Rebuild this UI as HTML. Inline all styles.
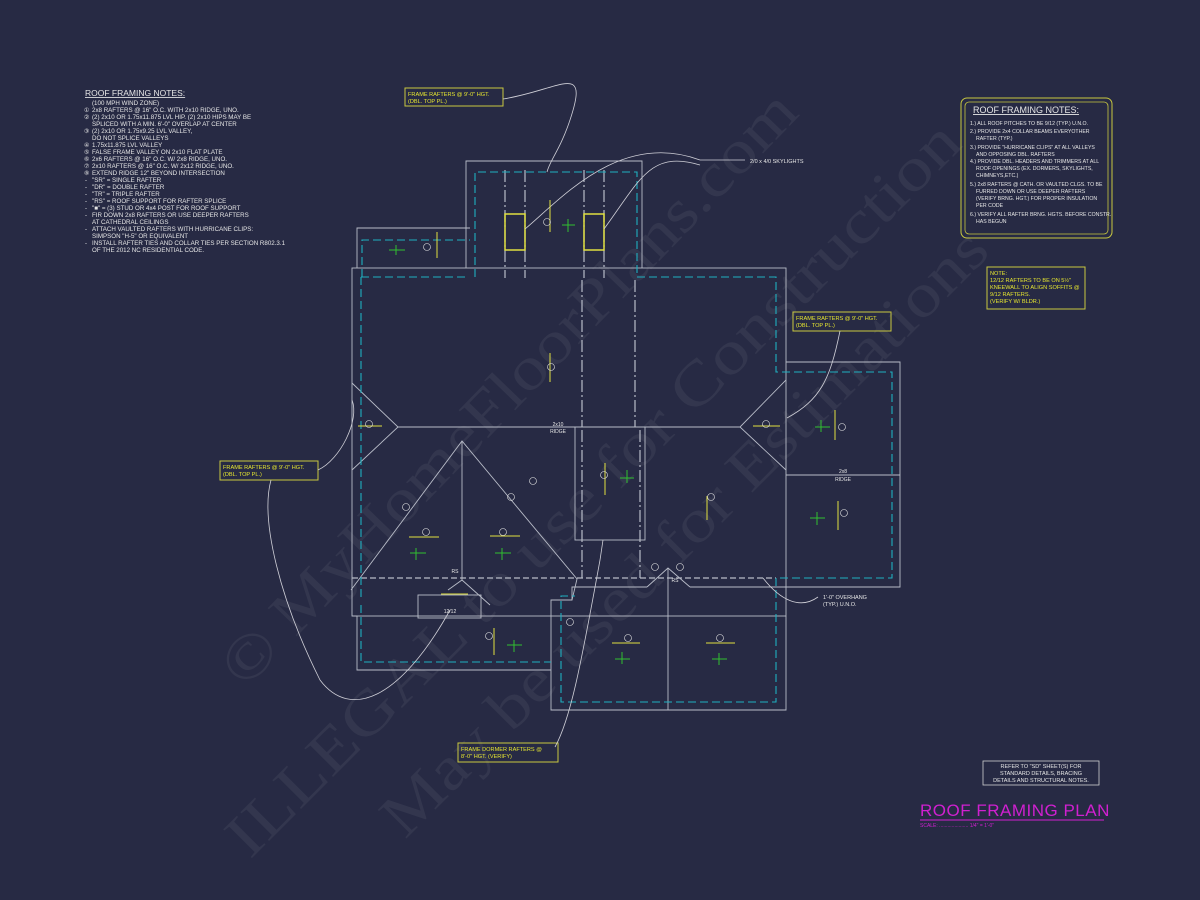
<!DOCTYPE html>
<html><head><meta charset="utf-8"><style>
html,body{margin:0;padding:0;background:#272a44;}
svg{display:block}
text{font-family:"Liberation Sans",sans-serif;}
.wm text{font-family:"Liberation Serif",serif;}
</style></head><body>
<svg width="1200" height="900" viewBox="0 0 1200 900" xmlns="http://www.w3.org/2000/svg">
<rect width="1200" height="900" fill="#272a44"/>
<!-- watermark -->
<g class="wm" fill="#33364e" font-size="62">
<text transform="translate(245,690) rotate(-46)" textLength="800" lengthAdjust="spacingAndGlyphs">© MyHomeFloorPlans.com</text>
<text transform="translate(250,860) rotate(-45)" textLength="1010" lengthAdjust="spacingAndGlyphs">ILLEGAL to use for Construction</text>
<text transform="translate(405,840) rotate(-45)" textLength="830" lengthAdjust="spacingAndGlyphs">May be used for Estimations</text>
</g>
<!-- left notes -->
<g fill="#e6e6e6" font-size="6.2">
<text x="85" y="96" font-size="8.5" text-decoration="underline">ROOF FRAMING NOTES:</text>
<text x="92" y="105">(100 MPH WIND ZONE)</text>
<text x="92" y="112">2x8 RAFTERS @ 16" O.C. WITH 2x10 RIDGE, UNO.</text>
<text x="92" y="119">(2) 2x10 OR 1.75x11.875 LVL HIP. (2) 2x10 HIPS MAY BE</text>
<text x="92" y="126">SPLICED WITH A MIN. 6'-0" OVERLAP AT CENTER</text>
<text x="92" y="133">(2) 2x10 OR 1.75x9.25 LVL VALLEY,</text>
<text x="92" y="140">DO NOT SPLICE VALLEYS</text>
<text x="92" y="147">1.75x11.875 LVL VALLEY</text>
<text x="92" y="154">FALSE FRAME VALLEY ON 2x10 FLAT PLATE</text>
<text x="92" y="161">2x6 RAFTERS @ 16" O.C. W/ 2x8 RIDGE, UNO.</text>
<text x="92" y="168">2x10 RAFTERS @ 16" O.C. W/ 2x12 RIDGE, UNO.</text>
<text x="92" y="175">EXTEND RIDGE 12" BEYOND INTERSECTION</text>
<text x="92" y="182">"SR" = SINGLE RAFTER</text>
<text x="92" y="189">"DR" = DOUBLE RAFTER</text>
<text x="92" y="196">"TR" = TRIPLE RAFTER</text>
<text x="92" y="203">"RS" = ROOF SUPPORT FOR RAFTER SPLICE</text>
<text x="92" y="210">"■" = (3) STUD OR 4x4 POST FOR ROOF SUPPORT</text>
<text x="92" y="217">FIR DOWN 2x8 RAFTERS OR USE DEEPER RAFTERS</text>
<text x="92" y="224">AT CATHEDRAL CEILINGS</text>
<text x="92" y="231">ATTACH VAULTED RAFTERS WITH HURRICANE CLIPS:</text>
<text x="92" y="238">SIMPSON "H-5" OR EQUIVALENT</text>
<text x="92" y="245">INSTALL RAFTER TIES AND COLLAR TIES PER SECTION R802.3.1</text>
<text x="92" y="252">OF THE 2012 NC RESIDENTIAL CODE.</text>
<g font-size="6"><text x="84" y="112">①</text><text x="84" y="119">②</text><text x="84" y="133">③</text><text x="84" y="147">④</text><text x="84" y="154">⑤</text><text x="84" y="161">⑥</text><text x="84" y="168">⑦</text><text x="84" y="175">⑧</text>
<text x="85" y="182">-</text><text x="85" y="189">-</text><text x="85" y="196">-</text><text x="85" y="203">-</text><text x="85" y="210">-</text><text x="85" y="217">-</text><text x="85" y="231">-</text><text x="85" y="245">-</text></g>
</g>
<!-- right notes box -->
<rect x="961" y="98" width="151" height="140" rx="6" fill="none" stroke="#c8c840" stroke-width="1"/>
<rect x="965" y="102" width="143" height="132" rx="4" fill="none" stroke="#c8c840" stroke-width="0.8"/>
<g fill="#e6e6e6" font-size="5.2">
<text x="973" y="113" font-size="9" text-decoration="underline">ROOF FRAMING NOTES:</text>
<text x="970" y="125">1.) ALL ROOF PITCHES TO BE  9/12 (TYP.) U.N.O.</text>
<text x="970" y="133">2.) PROVIDE 2x4 COLLAR BEAMS EVERYOTHER</text>
<text x="976" y="140">RAFTER (TYP.)</text>
<text x="970" y="149">3.) PROVIDE "HURRICANE CLIPS" AT ALL VALLEYS</text>
<text x="976" y="156">AND OPPOSING DBL. RAFTERS</text>
<text x="970" y="163">4.) PROVIDE DBL. HEADERS AND TRIMMERS AT ALL</text>
<text x="976" y="170">ROOF OPENINGS (EX. DORMERS, SKYLIGHTS,</text>
<text x="976" y="177">CHIMNEYS,ETC.)</text>
<text x="970" y="186">5.) 2x8 RAFTERS @ CATH. OR VAULTED CLGS. TO BE</text>
<text x="976" y="193">FURRED DOWN OR USE DEEPER RAFTERS</text>
<text x="976" y="200">(VERIFY BRNG. HGT.) FOR PROPER INSULATION</text>
<text x="976" y="207">PER CODE</text>
<text x="970" y="216">6.) VERIFY ALL RAFTER BRNG. HGTS. BEFORE CONSTR.</text>
<text x="976" y="223">HAS BEGUN</text>
</g>
<!-- yellow note boxes -->
<g fill="none" stroke="#c8c840" stroke-width="1">
<rect x="987" y="267" width="98" height="42"/>
<rect x="405" y="88" width="98" height="18"/>
<rect x="793" y="312" width="98" height="19"/>
<rect x="220" y="461" width="98" height="19"/>
<rect x="458" y="743" width="100" height="19"/>
</g>
<g fill="#e6e630" font-size="5.6">
<text x="990" y="275">NOTE:</text><text x="990" y="282">12/12 RAFTERS TO BE ON 5½"</text><text x="990" y="289">KNEEWALL TO ALIGN SOFFITS @</text><text x="990" y="296">9/12 RAFTERS.</text><text x="990" y="303">(VERIFY W/ BLDR.)</text>
<text x="408" y="96">FRAME RAFTERS @ 9'-0" HGT.</text><text x="408" y="103">(DBL. TOP PL.)</text>
<text x="796" y="320">FRAME RAFTERS @ 9'-0" HGT.</text><text x="796" y="327">(DBL. TOP PL.)</text>
<text x="223" y="469">FRAME RAFTERS @ 9'-0" HGT.</text><text x="223" y="476">(DBL. TOP PL.)</text>
<text x="461" y="751">FRAME DORMER RAFTERS @</text><text x="461" y="758">8'-0" HGT. (VERIFY)</text>
</g>
<!-- refer box / title -->
<rect x="983" y="761" width="116" height="24" fill="none" stroke="#d0d0d0" stroke-width="0.8"/>
<g fill="#e6e6e6" font-size="5.5" text-anchor="middle">
<text x="1041" y="768">REFER TO "SD" SHEET(S) FOR</text><text x="1041" y="775">STANDARD DETAILS, BRACING</text><text x="1041" y="782">DETAILS AND STRUCTURAL NOTES.</text>
</g>
<text x="920" y="816" fill="#d020d0" font-size="17" letter-spacing="0.5">ROOF FRAMING PLAN</text>
<line x1="920" y1="820" x2="1104" y2="820" stroke="#d020d0" stroke-width="1"/>
<text x="920" y="827" fill="#d020d0" font-size="5">SCALE: ..................... 1/4" = 1'-0"</text>
<!-- building outlines -->
<g fill="none" stroke="#b8bcc8" stroke-width="0.9">
<polyline points="466,268 466,161 642,161 642,268"/>
<polyline points="357,268 357,228 470,228"/>
<rect x="352" y="268" width="434" height="348"/>
<polyline points="786,362 900,362 900,587 690,587"/>
<polyline points="647,587 572,587 572,600 551,600 551,710 786,710 786,616"/>
<polyline points="352,616 357,616 357,670 551,670"/>
<line x1="398" y1="427" x2="740" y2="427"/>
<polyline points="352,383 398,427 352,470"/>
<polyline points="786,380 740,427 786,470"/>
<line x1="786" y1="475" x2="900" y2="475"/>
<polyline points="351,590 462,441 577,579 572,600"/>
<line x1="462" y1="441" x2="462" y2="580"/>
<rect x="575" y="427" width="70" height="113"/>
<polyline points="647,587 668,568 690,587"/>
<line x1="668" y1="568" x2="668" y2="710"/>
<rect x="418" y="595" width="63" height="23"/>
<polyline points="448,590 462,580 490,605"/>
</g>
<!-- dash-dot rafters -->
<g stroke="#b8bcc8" stroke-width="1.2" stroke-dasharray="12,3,2,3">
<line x1="505" y1="170" x2="505" y2="278"/><line x1="525" y1="170" x2="525" y2="278"/>
<line x1="584" y1="170" x2="584" y2="278"/><line x1="604" y1="170" x2="604" y2="278"/>
<line x1="582" y1="280" x2="582" y2="427"/><line x1="635" y1="280" x2="635" y2="427"/>
<line x1="582" y1="430" x2="582" y2="578"/><line x1="640" y1="430" x2="640" y2="578"/>
<line x1="352" y1="578" x2="776" y2="578" stroke-dasharray="6,3"/>
</g>
<!-- cyan dashed -->
<g fill="none" stroke="#1fb0c0" stroke-width="1.1" stroke-dasharray="8,4">
<polyline points="475,277 475,172 637,172 637,277"/>
<polyline points="362,277 362,240 470,240"/>
<polyline points="637,277 776,277 776,372 892,372 892,578 776,578"/>
<polyline points="361,277 361,598"/>
<polyline points="776,578 776,702 561,702 561,596 575,596"/>
<polyline points="361,605 361,662 551,662"/>
<polyline points="361,277 466,277"/>
</g>
<!-- skylights -->
<g fill="none" stroke="#e0e040" stroke-width="1.5">
<rect x="505" y="214" width="20" height="36"/><rect x="584" y="214" width="20" height="36"/>
</g>
<!-- leader curves -->
<g fill="none" stroke="#d0d0d8" stroke-width="0.8">
<path d="M503,99 C560,90 590,60 570,120 C560,150 550,160 547,172"/>
<path d="M525,229 C560,200 620,130 700,160"/>
<path d="M604,229 C640,180 650,150 700,165"/>
<path d="M840,331 C830,380 820,400 787,418"/>
<path d="M318,470 C340,460 360,420 352,400"/>
<path d="M271,480 C260,520 280,600 320,680 C350,720 400,700 450,610"/>
<path d="M555,747 C570,720 580,670 600,560 L603,540"/>
<path d="M763,578 C780,600 800,610 818,597"/>
<path d="M700,160 L745,160"/>
</g>
<text x="750" y="163" fill="#e6e6e6" font-size="5.5">2/0 x 4/0 SKYLIGHTS</text>
<text x="823" y="599" fill="#e6e6e6" font-size="5.5">1'-0" OVERHANG</text>
<text x="823" y="606" fill="#e6e6e6" font-size="5.5">(TYP.) U.N.O.</text>
<!-- labels -->
<g fill="#e6e6e6" font-size="5" text-anchor="middle">
<text x="558" y="426">2x10</text><text x="558" y="433">RIDGE</text>
<text x="843" y="473">2x8</text><text x="843" y="481">RIDGE</text>
<text x="455" y="573">RS</text><text x="675" y="582">RS</text>
<text x="450" y="613">12/12</text>
</g>
<!-- yellow arrows & green pitch marks (simplified) -->
<g stroke="#e0e040" stroke-width="1">
<line x1="550" y1="200" x2="550" y2="232"/><line x1="437" y1="232" x2="437" y2="258"/>
<line x1="550" y1="353" x2="550" y2="382"/><line x1="358" y1="426" x2="382" y2="426"/>
<line x1="753" y1="426" x2="780" y2="426"/><line x1="605" y1="463" x2="605" y2="495"/>
<line x1="409" y1="537" x2="439" y2="537"/><line x1="490" y1="536" x2="520" y2="536"/>
<line x1="707" y1="496" x2="707" y2="520"/><line x1="835" y1="410" x2="835" y2="440"/>
<line x1="838" y1="501" x2="838" y2="530"/><line x1="494" y1="628" x2="494" y2="655"/>
<line x1="612" y1="643" x2="640" y2="643"/><line x1="706" y1="643" x2="735" y2="643"/>
<line x1="441" y1="594" x2="468" y2="594"/>
</g>
<g stroke="#30c030" stroke-width="1">
<line x1="568" y1="219" x2="568" y2="232"/><line x1="562" y1="225" x2="575" y2="225"/>
<line x1="396" y1="245" x2="396" y2="255"/><line x1="389" y1="250" x2="405" y2="250"/>
<line x1="627" y1="470" x2="627" y2="483"/><line x1="620" y1="478" x2="634" y2="478"/>
<line x1="416" y1="548" x2="416" y2="560"/><line x1="410" y1="553" x2="426" y2="553"/>
<line x1="502" y1="548" x2="502" y2="560"/><line x1="495" y1="553" x2="511" y2="553"/>
<line x1="821" y1="420" x2="821" y2="432"/><line x1="815" y1="427" x2="830" y2="427"/>
<line x1="817" y1="512" x2="817" y2="525"/><line x1="810" y1="518" x2="825" y2="518"/>
<line x1="514" y1="640" x2="514" y2="652"/><line x1="507" y1="645" x2="522" y2="645"/>
<line x1="622" y1="652" x2="622" y2="664"/><line x1="615" y1="659" x2="630" y2="659"/>
<line x1="719" y1="653" x2="719" y2="665"/><line x1="712" y1="659" x2="727" y2="659"/>
</g>
<g fill="none" stroke="#e6e6e6" stroke-width="0.6">
<circle cx="547" cy="222" r="3.5"/><circle cx="427" cy="247" r="3.5"/><circle cx="551" cy="367" r="3.5"/>
<circle cx="369" cy="424" r="3.5"/><circle cx="766" cy="424" r="3.5"/><circle cx="604" cy="475" r="3.5"/>
<circle cx="533" cy="481" r="3.5"/><circle cx="511" cy="497" r="3.5"/><circle cx="406" cy="507" r="3.5"/>
<circle cx="426" cy="532" r="3.5"/><circle cx="503" cy="532" r="3.5"/><circle cx="711" cy="497" r="3.5"/>
<circle cx="842" cy="427" r="3.5"/><circle cx="844" cy="513" r="3.5"/><circle cx="489" cy="636" r="3.5"/>
<circle cx="570" cy="622" r="3.5"/><circle cx="628" cy="638" r="3.5"/><circle cx="720" cy="638" r="3.5"/>
<circle cx="655" cy="567" r="3.5"/><circle cx="680" cy="567" r="3.5"/>
</g>
</svg>
</body></html>
